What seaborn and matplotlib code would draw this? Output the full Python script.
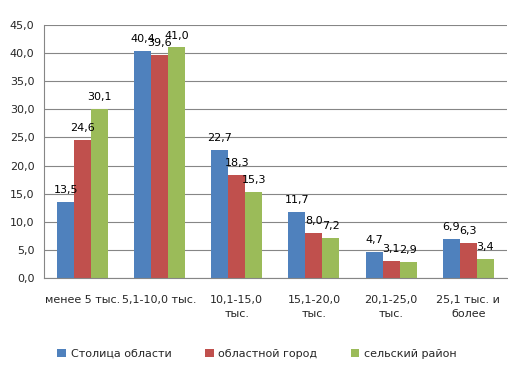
import numpy as np
import pandas as pd
import matplotlib
matplotlib.use("Agg")
import matplotlib.pyplot as plt
import seaborn as sns

# Data
categories = ["менее 5 тыс.", "5,1-10,0 тыс.", "10,1-15,0\nтыс.", "15,1-20,0\nтыс.",
              "20,1-25,0\nтыс.", "25,1 тыс. и\nболее"]
series_names = ["Столица области", "областной город", "сельский район"]
capital = [13.5, 40.4, 22.7, 11.7, 4.7, 6.9]
oblast_city = [24.6, 39.6, 18.3, 8.0, 3.1, 6.3]
rural = [30.1, 41.0, 15.3, 7.2, 2.9, 3.4]
colors = ["#4F81BD", "#C0504D", "#9BBB59"]

df = pd.DataFrame({
    "Category": categories * 3,
    "Group": [series_names[0]] * 6 + [series_names[1]] * 6 + [series_names[2]] * 6,
    "Value": capital + oblast_city + rural,
})

sns.set_style("white")
plt.rcParams["font.family"] = ["DejaVu Sans"]

fig = plt.figure(figsize=(5.08, 3.65), dpi=100)
ax = fig.add_axes([0.0866, 0.2384, 0.911, 0.6931])

sns.barplot(x="Category", y="Value", hue="Group", data=df, palette=colors,
            width=0.66, saturation=1, linewidth=0, ax=ax, legend=True)

# Data labels
for container in ax.containers:
    labels = [f"{v:.1f}".replace(".", ",") for v in container.datavalues]
    ax.bar_label(container, labels=labels, padding=5, fontsize=8, color="black")

ax.set_ylim(0, 45)
ax.set_xlim(-0.5, 5.5)
ax.set_yticks(np.arange(0, 46, 5))
ax.set_yticklabels([f"{v:.1f}".replace(".", ",") for v in np.arange(0, 46, 5)], fontsize=8)
ax.yaxis.grid(True, color="#868686", linewidth=0.8)
ax.set_axisbelow(True)
ax.set_xlabel("")
ax.set_ylabel("")

# category boundary tick marks
ax.set_xticks(np.arange(-0.5, 6.0, 1.0), minor=True)
ax.tick_params(axis="x", which="minor", length=5, color="#868686", width=0.8, direction="out")
ax.tick_params(axis="x", which="major", length=0, pad=12, labelsize=8)
ax.tick_params(axis="y", length=4, color="#868686", width=0.8, direction="out", pad=3)
for lbl in ax.get_xticklabels():
    lbl.set_linespacing(1.6)

for side in ["top", "right"]:
    ax.spines[side].set_visible(False)
for side in ["left", "bottom"]:
    ax.spines[side].set_color("#868686")
    ax.spines[side].set_linewidth(0.8)

ax.legend(loc="upper center", bbox_to_anchor=(0.46, -0.24), ncol=3, frameon=False,
          fontsize=8, handlelength=0.8, handleheight=0.8, handletextpad=0.4,
          columnspacing=3.0)

plt.savefig("out.png", dpi=100)
plt.close()
